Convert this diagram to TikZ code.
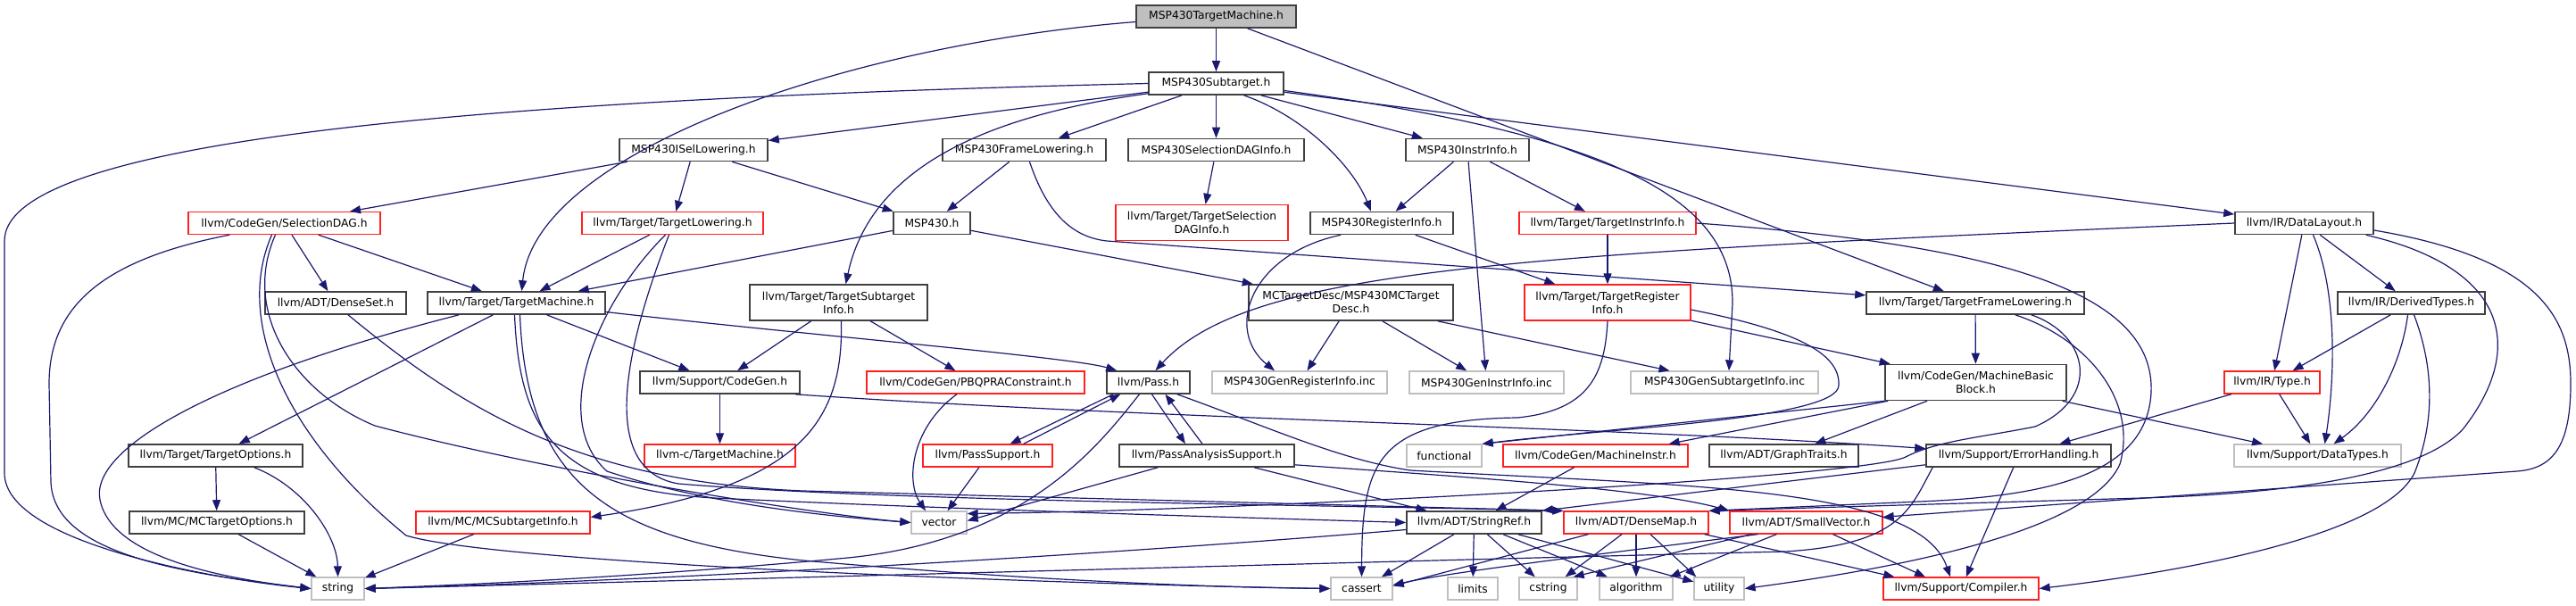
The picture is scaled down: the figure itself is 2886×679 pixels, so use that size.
\documentclass[tikz,border=0pt]{standalone}
\usepackage{fontspec}
\setmainfont{DejaVu Sans}
\usetikzlibrary{arrows.meta,calc}
\definecolor{edgec}{HTML}{191970}
\definecolor{grayb}{HTML}{BFBFBF}
\definecolor{redb}{HTML}{FF2020}
\definecolor{blkb}{HTML}{404040}
\begin{document}
\begin{tikzpicture}[x=1pt,y=-1pt,
  every node/.style={font=\fontsize{12.3}{15}\selectfont, inner sep=0pt, minimum height=25pt, line width=1.4pt, rectangle, align=center},
  blk/.style={draw=blkb, line width=1.6pt},
  redn/.style={draw=redb, line width=1.3pt},
  gryn/.style={draw=grayb, line width=1.3pt},
  rootn/.style={draw=blkb, fill=grayb, line width=1.6pt},
  dbl/.style={minimum height=40pt},
  dep/.style={draw=edgec, line width=1.2pt, -{Triangle[length=12pt,width=9pt]}}]
\useasboundingbox (0,0) rectangle (2886,679);
% row 0-2
\node[rootn, minimum width=179] (tm0) at (1362.5,18.5) {MSP430TargetMachine.h};
\node[blk, minimum width=151] (st) at (1362.5,93.5) {MSP430Subtarget.h};
\node[blk, minimum width=166] (isel) at (777,168) {MSP430ISelLowering.h};
\node[blk, minimum width=183] (mfl) at (1147.5,168) {MSP430FrameLowering.h};
\node[blk, minimum width=197] (sdi) at (1362.5,168) {MSP430SelectionDAGInfo.h};
\node[blk, minimum width=138] (mii) at (1644,168) {MSP430InstrInfo.h};
% row 3
\node[redn, minimum width=215] (sdag) at (318.5,250) {llvm/CodeGen/SelectionDAG.h};
\node[redn, minimum width=203] (tlow) at (753.5,250) {llvm/Target/TargetLowering.h};
\node[blk, minimum width=86] (msp) at (1044,250) {MSP430.h};
\node[redn, dbl, minimum width=193] (tsdi) at (1346.5,249.5) {llvm/Target/TargetSelection\\DAGInfo.h};
\node[blk, minimum width=160] (mri) at (1548,250) {MSP430RegisterInfo.h};
\node[redn, minimum width=198] (tii) at (1801,250) {llvm/Target/TargetInstrInfo.h};
\node[blk, minimum width=155] (dl) at (2581.5,250) {llvm/IR/DataLayout.h};
% row 4
\node[blk, minimum width=158] (dset) at (376,339.5) {llvm/ADT/DenseSet.h};
\node[blk, minimum width=199] (tmach) at (578.5,339.5) {llvm/Target/TargetMachine.h};
\node[blk, dbl, minimum width=199] (tsi) at (939.5,339) {llvm/Target/TargetSubtarget\\Info.h};
\node[blk, dbl, minimum width=229] (mcd) at (1513.5,339) {MCTargetDesc/MSP430MCTarget\\Desc.h};
\node[redn, dbl, minimum width=186] (tri) at (1801,339) {llvm/Target/TargetRegister\\Info.h};
\node[blk, minimum width=244] (tfl) at (2213,339.5) {llvm/Target/TargetFrameLowering.h};
\node[blk, minimum width=165] (dt) at (2701.5,339.5) {llvm/IR/DerivedTypes.h};
% row 5
\node[blk, minimum width=179] (cg) at (806.5,428.5) {llvm/Support/CodeGen.h};
\node[redn, minimum width=244] (pbqp) at (1093,428.5) {llvm/CodeGen/PBQPRAConstraint.h};
\node[blk, minimum width=93] (pass) at (1286.5,428.5) {llvm/Pass.h};
\node[gryn, minimum width=196] (gri) at (1456,428.5) {MSP430GenRegisterInfo.inc};
\node[gryn, minimum width=173] (gii) at (1665.5,428.5) {MSP430GenInstrInfo.inc};
\node[gryn, minimum width=210] (gsi) at (1932,428.5) {MSP430GenSubtargetInfo.inc};
\node[blk, dbl, minimum width=203] (mbb) at (2213.5,428.5) {llvm/CodeGen/MachineBasic\\Block.h};
\node[redn, minimum width=107] (type) at (2545.5,428.5) {llvm/IR/Type.h};
% row 6
\node[blk, minimum width=195] (topt) at (241.5,510.5) {llvm/Target/TargetOptions.h};
\node[redn, minimum width=169] (ctm) at (806.5,510.5) {llvm-c/TargetMachine.h};
\node[redn, minimum width=145] (psup) at (1106.5,510.5) {llvm/PassSupport.h};
\node[blk, minimum width=196] (pas) at (1352,510.5) {llvm/PassAnalysisSupport.h};
\node[gryn, minimum width=84] (func) at (1618,510.5) {functional};
\node[redn, minimum width=207] (mi) at (1787.5,510.5) {llvm/CodeGen/MachineInstr.h};
\node[blk, minimum width=167] (gt) at (1998.5,510.5) {llvm/ADT/GraphTraits.h};
\node[blk, minimum width=207] (eh) at (2261.5,510.5) {llvm/Support/ErrorHandling.h};
\node[gryn, minimum width=187] (dtypes) at (2596.5,510.5) {llvm/Support/DataTypes.h};
% row 7
\node[blk, minimum width=196] (mcto) at (243,585.5) {llvm/MC/MCTargetOptions.h};
\node[redn, minimum width=195] (mcsi) at (563.5,585.5) {llvm/MC/MCSubtargetInfo.h};
\node[gryn, minimum width=62] (vec) at (1052,585.5) {vector};
\node[blk, minimum width=151] (sref) at (1651.5,585.5) {llvm/ADT/StringRef.h};
\node[redn, minimum width=162] (dmap) at (1833,585.5) {llvm/ADT/DenseMap.h};
\node[redn, minimum width=171] (svec) at (2023.5,585.5) {llvm/ADT/SmallVector.h};
% row 8
\node[gryn, minimum width=59] (string) at (378.5,659.5) {string};
\node[gryn, minimum width=69] (cassert) at (1525.5,659.5) {cassert};
\node[gryn, minimum width=56] (limits) at (1650,659.5) {limits};
\node[gryn, minimum width=65] (cstring) at (1734.5,659.5) {cstring};
\node[gryn, minimum width=82] (algorithm) at (1833,659.5) {algorithm};
\node[gryn, minimum width=56] (utility) at (1926,659.5) {utility};
\node[redn, minimum width=174] (compiler) at (2197,659.5) {llvm/Support/Compiler.h};

% ---- edges ----
% MSP430TargetMachine.h
\draw[dep] (tm0) -- (st);
\draw[dep] ($(tm0.west)+(0,6)$) .. controls (950,50) and (600,170) .. ($(tmach.north)+(6,0)$);
\draw[dep] (tm0) -- (tfl);
% MSP430Subtarget.h
\draw[dep] (st.west) .. controls (600,110) and (5,150) .. (5,270) -- (5,530) .. controls (5,610) and (250,650) .. (string.west);
\draw[dep] (st) -- (isel);
\draw[dep] ($(st.south west)+(0,-2)$) .. controls (1100,130) and (975,190) .. ($(tsi.north)+(8,0)$);
\draw[dep] (st) -- (mfl);
\draw[dep] (st) -- (sdi);
\draw[dep] ($(st.south)+(31,0)$) .. controls (1460,130) and (1515,185) .. ($(mri.north)+(-12,0)$);
\draw[dep] (st) -- (mii);
\draw[dep] (st) -- (dl);
\draw[dep] ($(st.east)+(0,8)$) .. controls (1800,150) and (1942,220) .. (1941,340) -- ($(gsi.north)+(5,0)$);
% row 2
\draw[dep] (isel) -- (sdag);
\draw[dep] (isel) -- (tlow);
\draw[dep] (isel) -- (msp);
\draw[dep] (mfl) -- (msp);
\draw[dep] ($(mfl.south)+(6,0)$) .. controls (1170,230) and (1195,265) .. (1240,270) -- (tfl);
\draw[dep] (sdi) -- (tsdi);
\draw[dep] (mii) -- (mri);
\draw[dep] (mii) -- (tii);
\draw[dep] (mii) -- (gii);
% row 3
\draw[dep] ($(mri.south)+(-46,0)$) .. controls (1400,285) and (1372,370) .. ($(gri.north)+(-28,0)$);
\draw[dep] (mri) -- (tri);
\draw[dep] (tii) -- (tri);
\draw[dep] (tii.east) .. controls (2250,275) and (2415,330) .. (2410,440) .. controls (2405,530) and (2300,556) .. (2150,562) -- (dmap.north east);
\draw[dep] (dl.west) .. controls (1700,285) and (1400,300) .. ($(pass.north)+(8,0)$);
\draw[dep] (dl) -- (type);
\draw[dep] ($(dl.south)+(10,0)$) .. controls (2620,330) and (2615,430) .. ($(dtypes.north)+(8,0)$);
\draw[dep] (dl) -- (dt);
\draw[dep] ($(dl.east)+(0,8)$) .. controls (2850,290) and (2880,360) .. (2880,430) .. controls (2880,500) and (2860,525) .. (2820,528) -- (svec);
\draw[dep] ($(dl.south east)+(-9,0)$) .. controls (2810,300) and (2830,390) .. (2760,480) .. controls (2720,525) and (2600,552) .. (2400,558) -- (dmap.north east);
\draw[dep] ($(sdag.south west)+(47,0)$) .. controls (120,290) and (55,340) .. (55,430) -- (57,540) .. controls (60,620) and (200,642) .. (string.west);
\draw[dep] ($(sdag.south)+(-10,0)$) .. controls (270,350) and (330,440) .. (420,477) .. controls (600,525) and (900,575) .. (vec.west);
\draw[dep] ($(sdag.south)+(-14,0)$) .. controls (262,360) and (320,490) .. (455,600) .. controls (560,632) and (1200,655) .. (cassert.west);
\draw[dep] (sdag) -- (dset);
\draw[dep] (sdag) -- (tmach);
\draw[dep] (tlow) -- (tmach);
\draw[dep] ($(tlow.south)+(-8,0)$) .. controls (668,340) and (615,470) .. (680,528) .. controls (800,568) and (950,580) .. (vec.west);
\draw[dep] ($(tlow.south)+(-4,0)$) .. controls (712,360) and (660,525) .. (760,542) .. controls (1000,562) and (1500,566) .. (dmap.north west);
\draw[dep] (msp) -- (tmach);
\draw[dep] (msp) -- (mcd);
% row 4
\draw[dep] ($(dset.south)+(14,0)$) .. controls (520,460) and (650,540) .. (900,550) -- (dmap.north west);
\draw[dep] (tmach) -- (topt);
\draw[dep] ($(tmach.south west)+(36,0)$) .. controls (250,420) and (100,500) .. (112,560) .. controls (125,625) and (250,648) .. (string.west);
\draw[dep] ($(tmach.south)+(-2,0)$) .. controls (582,480) and (620,548) .. (800,558) .. controls (1100,572) and (1400,580) .. (sref.west);
\draw[dep] ($(tmach.south)+(4,0)$) .. controls (590,540) and (680,605) .. (900,628) .. controls (1150,650) and (1350,658) .. (cassert.west);
\draw[dep] (tmach) -- (cg);
\draw[dep] ($(tmach.east)+(0,10)$) .. controls (900,375) and (1200,400) .. ($(pass.north west)+(12,0)$);
\draw[dep] (tsi) -- (cg);
\draw[dep] (tsi) -- (pbqp);
\draw[dep] ($(tsi.south)+(3,0)$) .. controls (945,470) and (900,545) .. ($(mcsi.east)+(0,-6)$);
\draw[dep] (mcd) -- (gri);
\draw[dep] (mcd) -- (gii);
\draw[dep] (mcd) -- (gsi);
\draw[dep] (tri) -- (mbb);
\draw[dep] (tri.south) .. controls (1798,420) and (1780,460) .. (1700,468) .. controls (1540,470) and (1526,520) .. (cassert.north);
\draw[dep] ($(tri.east)+(0,8)$) .. controls (2010,370) and (2062,395) .. (2060,432) .. controls (2058,470) and (1800,480) .. (func.north east);
\draw[dep] (tfl) -- (mbb);
\draw[dep] ($(tfl.south east)+(-78,0)$) .. controls (2340,380) and (2395,450) .. (2375,520) .. controls (2340,600) and (2100,640) .. (utility.east);
\draw[dep] ($(tfl.south east)+(-60,0)$) .. controls (2340,375) and (2355,445) .. (2280,478) .. controls (2220,490) and (2170,494) .. (2135,512) .. controls (2090,535) and (1400,572) .. ($(vec.east)+(0,-10)$);
\draw[dep] (dt) -- (type);
\draw[dep] ($(dt.south)+(-4,0)$) .. controls (2690,410) and (2660,465) .. ($(dtypes.north)+(18,0)$);
\draw[dep] ($(dt.south)+(3,0)$) .. controls (2730,420) and (2725,480) .. (2705,530) .. controls (2670,600) and (2450,640) .. (compiler.east);
% row 5
\draw[dep] (cg) -- (ctm);
\draw[dep] ($(cg.south east)+(-6,0)$) .. controls (1300,470) and (1800,478) .. ($(eh.west)+(0,-8)$);
\draw[dep] ($(pbqp.south)+(-21,0)$) .. controls (1020,480) and (1015,540) .. ($(vec.north)+(-15,0)$);
\draw[dep] ($(pass.south west)+(8,0)$) -- ($(psup.north east)+(-48,0)$);
\draw[dep] ($(pass.south)+(4,0)$) -- ($(pas.north)+(-24,0)$);
\draw[dep] ($(pass.south)+(-10,0)$) .. controls (1230,500) and (1150,605) .. (950,625) .. controls (700,648) and (500,656) .. (string.east);
\draw[dep] ($(pass.south east)+(-15,0)$) .. controls (1420,478) and (1500,515) .. (1580,527) .. controls (1900,545) and (2150,545) .. ($(compiler.north)+(-12,0)$);
\draw[dep] (mbb.south west) -- (func.north east);
\draw[dep] ($(mbb.south west)+(4,0)$) -- ($(mi.north east)+(-22,0)$);
\draw[dep] (mbb) -- (gt);
\draw[dep] (mbb) -- (dtypes);
\draw[dep] (type) -- (eh);
\draw[dep] (type) -- (dtypes);
% row 6
\draw[dep] (topt) -- (mcto);
\draw[dep] ($(topt.south east)+(-55,0)$) .. controls (340,545) and (378,600) .. (string.north);
\draw[dep] (psup) -- (vec);
\draw[dep] ($(psup.north east)+(-33,0)$) -- ($(pass.south west)+(16,0)$);
\draw[dep] ($(pas.north)+(-5,0)$) -- ($(pass.south)+(19,0)$);
\draw[dep] ($(pas.south west)+(44,0)$) -- ($(vec.east)+(0,-2)$);
\draw[dep] (pas) -- (sref);
\draw[dep] ($(pas.south east)+(0,-3)$) .. controls (1650,535) and (1850,548) .. (svec.north west);
\draw[dep] (mi) -- (sref);
\draw[dep] ($(eh.south west)+(0,-3)$) -- (sref.north east);
\draw[dep] (eh) -- (compiler);
\draw[dep] ($(eh.south west)+(8,0)$) .. controls (2140,570) and (2130,610) .. (2000,618) .. controls (1700,625) and (800,650) .. (string.east);
% row 7
\draw[dep] (mcto) -- (string);
\draw[dep] (mcsi) -- (string);
\draw[dep] ($(sref.west)+(0,8)$) .. controls (1200,625) and (700,652) .. (string.east);
\draw[dep] (sref) -- (cassert);
\draw[dep] (sref) -- (limits);
\draw[dep] (sref) -- (cstring);
\draw[dep] (sref) -- (algorithm);
\draw[dep] (sref) -- (utility);
\draw[dep] ($(dmap.south west)+(28,0)$) -- ($(cassert.east)+(0,-3)$);
\draw[dep] ($(dmap.south)+(-16,0)$) -- ($(cstring.north east)+(-14,0)$);
\draw[dep] (dmap) -- (algorithm);
\draw[dep] ($(dmap.south)+(16,0)$) -- ($(utility.north west)+(3,0)$);
\draw[dep] ($(dmap.south east)+(-5,0)$) -- ($(compiler.north west)+(13,0)$);
\draw[dep] ($(svec.south west)+(32,0)$) .. controls (1800,620) and (1630,640) .. ($(cassert.east)+(0,-4)$);
\draw[dep] ($(svec.south west)+(25,0)$) -- ($(cstring.north east)+(-5,0)$);
\draw[dep] ($(svec.south west)+(53,0)$) -- ($(algorithm.north east)+(-4,0)$);
\draw[dep] ($(svec.south)+(30,0)$) -- ($(compiler.north)+(-40,0)$);
\end{tikzpicture}
\end{document}
